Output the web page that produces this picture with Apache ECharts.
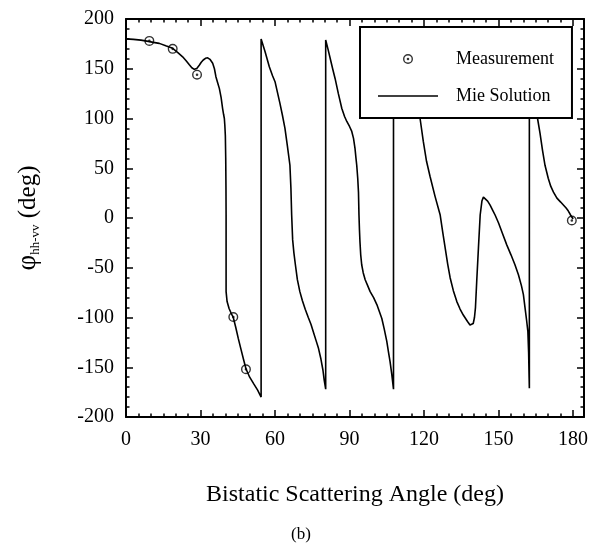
<!DOCTYPE html>
<html>
<head>
<meta charset="utf-8">
<script src="https://cdn.jsdelivr.net/npm/echarts@6/dist/echarts.min.js"></script>
<style>
  html, body { margin: 0; padding: 0; background: #fff; }
  #chart { width: 598px; height: 550px; }
</style>
</head>
<body>
<div id="chart"></div>
<script>
// measured points
const measAngle = [9.4, 18.8, 28.6, 43.2, 48.3, 179.5];
const measPhase = [178, 170, 144, -99.5, -152, -2.5];

// Mie solution (jumps are repeated angles)
const mieAngle = [
  0, 3, 6, 9, 11, 13.4, 16, 18.8, 21, 22.8, 24.2, 25.5, 26.5, 27.5, 28.5, 29.5, 30.3, 31.1, 32, 32.9,
  33.8, 34.9, 35.6, 36.2, 36.9, 37.6, 38.3, 38.9, 39.3, 39.6, 39.8, 40, 40.15, 40.25, 40.3, 40.3, 40.3,
  40.7, 41.5, 42.3, 43.2, 44.2, 45.2, 46.2, 47.3, 48.3, 49.8, 51.5, 53, 54.4,
  54.4, 56, 57.7, 59, 60, 61, 62, 63, 64, 65, 66, 66.4, 66.7, 67.1, 67.6, 68.2, 69, 70, 71, 72.2, 73.4,
  74.5, 75.5, 76.5, 77.5, 78.5, 79.3, 79.8, 80.4,
  80.4, 81.3, 82.2, 83.2, 84.2, 85.5, 86.9, 88, 88.9, 90, 90.9, 91.6, 92.2, 92.6, 92.9, 93.3, 93.6, 93.8,
  94, 94.2, 94.5, 94.9, 95.5, 96.3, 97.3, 98.3, 99.7, 101, 102, 103, 104, 105, 105.7, 106.3, 107, 107.7,
  107.7, 109, 111, 113, 115, 117, 118.4, 119.7, 121, 122.4, 124.4, 126.5, 127.5, 128.5, 129.5, 130.5,
  131.8, 133.2, 134.5, 135.8, 137.5, 138.5, 139.2, 139.8, 140.3, 140.7, 141.2, 141.9, 142.6, 143.3,
  143.9, 144.7, 145.6, 146.6, 147.6, 148.6, 150, 151.5, 153.3, 155, 156.6, 158, 159.2, 160, 160.7,
  161.3, 161.8, 162.1, 162.3, 162.4,
  162.4, 163, 163.8, 164.6, 165.7, 166.7, 167.7, 168.7, 170, 171, 172.1, 173.5, 175, 176.1, 177.2,
  178.1, 179, 180
];
const miePhase = [
  180, 179.5, 178.8, 177.5, 176.5, 175.5, 173, 170.5, 166, 162, 158, 154, 151, 149.4, 150.3, 153.5, 156.5, 158.8, 160.5, 161,
  159.5, 155.5, 150, 142, 136, 130, 121, 110, 104, 100, 93, 83, 60, 30, 3, -40, -74,
  -84, -91, -95.5, -100, -110, -121, -131, -142, -151.5, -160, -167, -173, -180,
  180, 167, 152, 143, 137, 126, 115, 103, 90, 72, 53, 30, 3, -22, -35, -47, -62, -74, -83, -92, -100,
  -107, -115, -123, -131, -142, -153, -163, -172,
  179, 170, 160.5, 150, 140, 125, 110, 102, 97, 92, 87, 80, 70, 60, 53, 40, 26, 3,
  -12, -24, -37, -47, -55, -62, -68, -74, -80, -87, -94, -101, -112, -124, -135, -144, -157, -172,
  180, 172, 158, 144, 130, 114, 100, 77, 57, 42, 22, 3, -14, -30, -46, -60,
  -73, -84, -91.5, -97.5, -104, -107.5, -109, -106, -100, -90, -64, -30, 3, 17,
  21, 20, 17, 13, 8, 3, -5, -15, -27, -37, -47, -57, -68, -77, -91,
  -103, -114, -135, -160, -171,
  180, 162, 135, 115, 100, 85, 68, 53, 40, 32, 26, 20, 16, 13, 10,
  7, 3, -1
];

const xTicks = [0, 30, 60, 90, 120, 150, 180];
const X_MAX = 184.4;

const FONT = '"Liberation Serif", "Times New Roman", serif';
const RING = 'path://M0,-10A10,10,0,1,1,0,10A10,10,0,1,1,0,-10Z' +
  'M0,-7.2A7.2,7.2,0,1,0,0,7.2A7.2,7.2,0,1,0,0,-7.2Z' +
  'M0,-2.6A2.6,2.6,0,1,1,0,2.6A2.6,2.6,0,1,1,0,-2.6Z';
const DASH = 'path://M0,0L60,0L60,1.3L0,1.3Z';

const chart = echarts.init(document.getElementById('chart'), null, { renderer: 'canvas' });

// major and minor ticks need their own axes so that the ticks stay inward on all four sides
function xAx(pos, interval, major, extra) {
  return Object.assign({
    type: 'value', position: pos, min: 0, max: X_MAX, interval: interval,
    axisLine: { show: major, onZero: false, lineStyle: { color: '#000', width: 2 } },
    axisTick: { show: true, inside: true, length: major ? 7 : 3.5, lineStyle: { color: '#000', width: 1.5 } },
    axisLabel: { show: false },
    splitLine: { show: false }
  }, extra || {});
}
function yAx(pos, interval, major, extra) {
  return Object.assign({
    type: 'value', position: pos, min: -200, max: 200, interval: interval,
    axisLine: { show: major, onZero: false, lineStyle: { color: '#000', width: 2 } },
    axisTick: { show: true, inside: true, length: major ? 7 : 3.5, lineStyle: { color: '#000', width: 1.5 } },
    axisLabel: { show: false },
    splitLine: { show: false }
  }, extra || {});
}

const option = {
  animation: false,
  backgroundColor: '#fff',
  title: {
    text: '(b)',
    left: 291,
    top: 526,
    padding: 0,
    textStyle: { fontFamily: FONT, fontSize: 17, fontWeight: 'normal', color: '#000' }
  },
  grid: { left: 126, right: 14, top: 19, bottom: 133, containLabel: false },
  legend: {
    orient: 'vertical',
    left: 360,
    top: 27,
    padding: [23, 18, 13, 18],
    itemWidth: 60,
    itemHeight: 10,
    itemGap: 19,
    backgroundColor: '#fff',
    borderColor: '#000',
    borderWidth: 2,
    selectedMode: false,
    textStyle: { fontFamily: FONT, fontSize: 18, color: '#000', lineHeight: 18, padding: [0, 0, 0, 13] },
    data: [{ name: 'Measurement', icon: RING }, { name: 'Mie Solution', icon: DASH }]
  },
  xAxis: [
    xAx('bottom', 30, true, {
      axisLabel: {
        show: true, margin: 13, fontFamily: FONT, fontSize: 20, color: '#000',
        formatter: v => (xTicks.indexOf(v) >= 0 ? String(v) : '')
      },
      name: 'Bistatic Scattering Angle (deg)',
      nameLocation: 'middle',
      nameGap: 66,
      nameTextStyle: { fontFamily: FONT, fontSize: 24, color: '#000', lineHeight: 24 }
    }),
    xAx('bottom', 5, false),
    xAx('top', 30, true),
    xAx('top', 5, false)
  ],
  yAxis: [
    yAx('left', 50, true, {
      axisLabel: { show: true, margin: 12, fontFamily: FONT, fontSize: 20, color: '#000' },
      name: '{f|φ}{s|hh-vv}{p| (deg)}',
      nameLocation: 'middle',
      nameRotate: 90,
      nameGap: 84,
      nameTextStyle: {
        fontFamily: FONT, color: '#000',
        rich: {
          f: { fontFamily: FONT, fontSize: 27, lineHeight: 28, color: '#000' },
          p: { fontFamily: FONT, fontSize: 25, lineHeight: 28, color: '#000' },
          s: { fontFamily: FONT, fontSize: 13, lineHeight: 17, verticalAlign: 'bottom', color: '#000' }
        }
      }
    }),
    yAx('left', 10, false),
    yAx('right', 50, true),
    yAx('right', 10, false)
  ],
  series: [
    {
      name: 'Mie Solution',
      type: 'line',
      xAxisIndex: 0,
      yAxisIndex: 0,
      data: mieAngle.map((a, i) => [a, miePhase[i]]),
      showSymbol: false,
      symbol: 'none',
      lineStyle: { color: '#000', width: 1.6 },
      itemStyle: { color: '#000' },
      z: 2
    },
    {
      name: 'Measurement',
      type: 'scatter',
      xAxisIndex: 0,
      yAxisIndex: 0,
      data: measAngle.map((a, i) => [a, measPhase[i]]),
      symbol: RING,
      symbolSize: 10,
      itemStyle: { color: '#000' },
      z: 3
    }
  ]
};

chart.setOption(option);
</script>
</body>
</html>
